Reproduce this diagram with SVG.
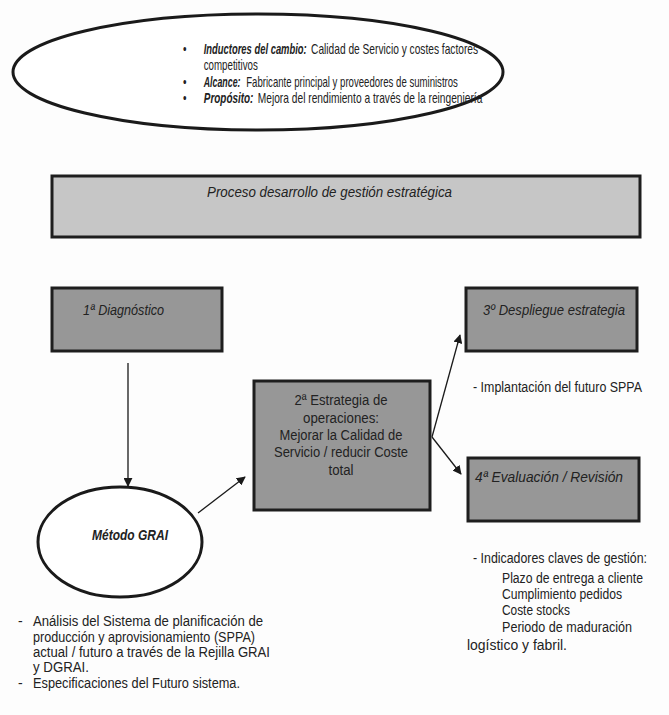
<svg xmlns="http://www.w3.org/2000/svg" width="669" height="715" viewBox="0 0 669 715">
  <defs>
    <marker id="arrow" viewBox="0 0 10 10" refX="9" refY="5" markerWidth="9" markerHeight="9" markerUnits="userSpaceOnUse" orient="auto">
      <path d="M0,0 L10,5 L0,10 z" fill="#1a1a1a"/>
    </marker>
    <style>
      text { font-family: "Liberation Sans", Arial, sans-serif; font-size: 14px; fill: #222; }
      .sm { font-size: 13px; }
      .it { font-style: italic; }
      .bi { font-style: italic; font-weight: bold; }
      .box { fill: #979797; stroke: #1e1e1e; stroke-width: 3; }
      .band { fill: #c6c6c6; stroke: #1e1e1e; stroke-width: 3; }
      .oval { fill: #fff; stroke: #1a1a1a; stroke-width: 3; }
      .link { fill: none; stroke: #1a1a1a; stroke-width: 1.3; marker-end: url(#arrow); }
    </style>
  </defs>
  <rect width="669" height="715" fill="#fdfdfd"/>

  <!-- scope ellipse; its bullet text is set in a horizontally condensed frame -->
  <g id="scope">
    <ellipse class="oval" cx="258" cy="72" rx="245" ry="58"/>
    <g class="sm" transform="matrix(0.72,0,0,1,0,0)">
      <text x="254" y="54">•</text>
      <text class="bi" x="283" y="54" textLength="143" lengthAdjust="spacingAndGlyphs">Inductores del cambio:</text>
      <text x="432" y="54" textLength="232" lengthAdjust="spacingAndGlyphs">Calidad de Servicio y costes factores</text>
      <text x="283" y="70" textLength="75" lengthAdjust="spacingAndGlyphs">competitivos</text>
      <text x="254" y="87">•</text>
      <text class="bi" x="283" y="87" textLength="51" lengthAdjust="spacingAndGlyphs">Alcance:</text>
      <text x="342" y="87" textLength="294" lengthAdjust="spacingAndGlyphs">Fabricante principal y proveedores de suministros</text>
      <text x="254" y="103">•</text>
      <text class="bi" x="283" y="103" textLength="69" lengthAdjust="spacingAndGlyphs">Propósito:</text>
      <text x="358" y="103" textLength="312" lengthAdjust="spacingAndGlyphs">Mejora del rendimiento a través de la reingeniería</text>
    </g>
  </g>

  <!-- process band -->
  <g id="proceso">
    <rect class="band" x="52" y="176" width="588" height="61"/>
    <text class="it" x="207" y="197" textLength="245" lengthAdjust="spacingAndGlyphs">Proceso desarrollo de gestión estratégica</text>
  </g>

  <g id="diagnostico">
    <rect class="box" x="52" y="288" width="170" height="63"/>
    <text class="it" x="83" y="315" textLength="81" lengthAdjust="spacingAndGlyphs">1ª Diagnóstico</text>
  </g>

  <g id="despliegue">
    <rect class="box" x="466" y="288" width="171" height="63"/>
    <text class="it" x="483" y="315" textLength="142" lengthAdjust="spacingAndGlyphs">3º Despliegue estrategia</text>
    <text x="473" y="392" textLength="169" lengthAdjust="spacingAndGlyphs">- Implantación del futuro SPPA</text>
  </g>

  <g id="estrategia">
    <rect class="box" x="254" y="381" width="176" height="129"/>
    <g text-anchor="middle">
      <text x="341" y="405" textLength="93" lengthAdjust="spacingAndGlyphs">2ª Estrategia de</text>
      <text x="341" y="423" textLength="76" lengthAdjust="spacingAndGlyphs">operaciones:</text>
      <text x="341" y="440" textLength="123" lengthAdjust="spacingAndGlyphs">Mejorar la Calidad de</text>
      <text x="341" y="457" textLength="134" lengthAdjust="spacingAndGlyphs">Servicio / reducir Coste</text>
      <text x="341" y="475" textLength="25" lengthAdjust="spacingAndGlyphs">total</text>
    </g>
  </g>

  <g id="evaluacion">
    <rect class="box" x="468" y="458" width="171" height="63"/>
    <text class="it" x="475" y="482" textLength="148" lengthAdjust="spacingAndGlyphs">4ª Evaluación / Revisión</text>
    <text x="473" y="563" textLength="174" lengthAdjust="spacingAndGlyphs">- Indicadores claves de gestión:</text>
    <text x="502" y="583" textLength="141" lengthAdjust="spacingAndGlyphs">Plazo de entrega a cliente</text>
    <text x="502" y="599" textLength="120" lengthAdjust="spacingAndGlyphs">Cumplimiento pedidos</text>
    <text x="502" y="615" textLength="68" lengthAdjust="spacingAndGlyphs">Coste stocks</text>
    <text x="502" y="632" textLength="130" lengthAdjust="spacingAndGlyphs">Periodo de maduración</text>
    <text x="467" y="650" textLength="100" lengthAdjust="spacingAndGlyphs">logístico y fabril.</text>
  </g>

  <g id="grai">
    <ellipse class="oval" cx="120" cy="542" rx="82" ry="55"/>
    <text class="it" x="92" y="540" textLength="76" lengthAdjust="spacingAndGlyphs" font-weight="bold">Método GRAI</text>
    <text x="18" y="626">-</text>
    <text x="33" y="626" textLength="230" lengthAdjust="spacingAndGlyphs">Análisis del Sistema de planificación de</text>
    <text x="33" y="642" textLength="222" lengthAdjust="spacingAndGlyphs">producción y aprovisionamiento (SPPA)</text>
    <text x="33" y="657" textLength="237" lengthAdjust="spacingAndGlyphs">actual / futuro a través de la Rejilla GRAI</text>
    <text x="33" y="672" textLength="56" lengthAdjust="spacingAndGlyphs">y DGRAI.</text>
    <text x="18" y="688">-</text>
    <text x="33" y="688" textLength="207" lengthAdjust="spacingAndGlyphs">Especificaciones del Futuro sistema.</text>
  </g>

  <g id="connectors">
    <line class="link" x1="128" y1="363" x2="128" y2="486"/>
    <line class="link" x1="198" y1="513" x2="245" y2="477"/>
    <line class="link" x1="432" y1="437" x2="460" y2="335"/>
    <line class="link" x1="432" y1="437" x2="461" y2="474"/>
  </g>
</svg>
